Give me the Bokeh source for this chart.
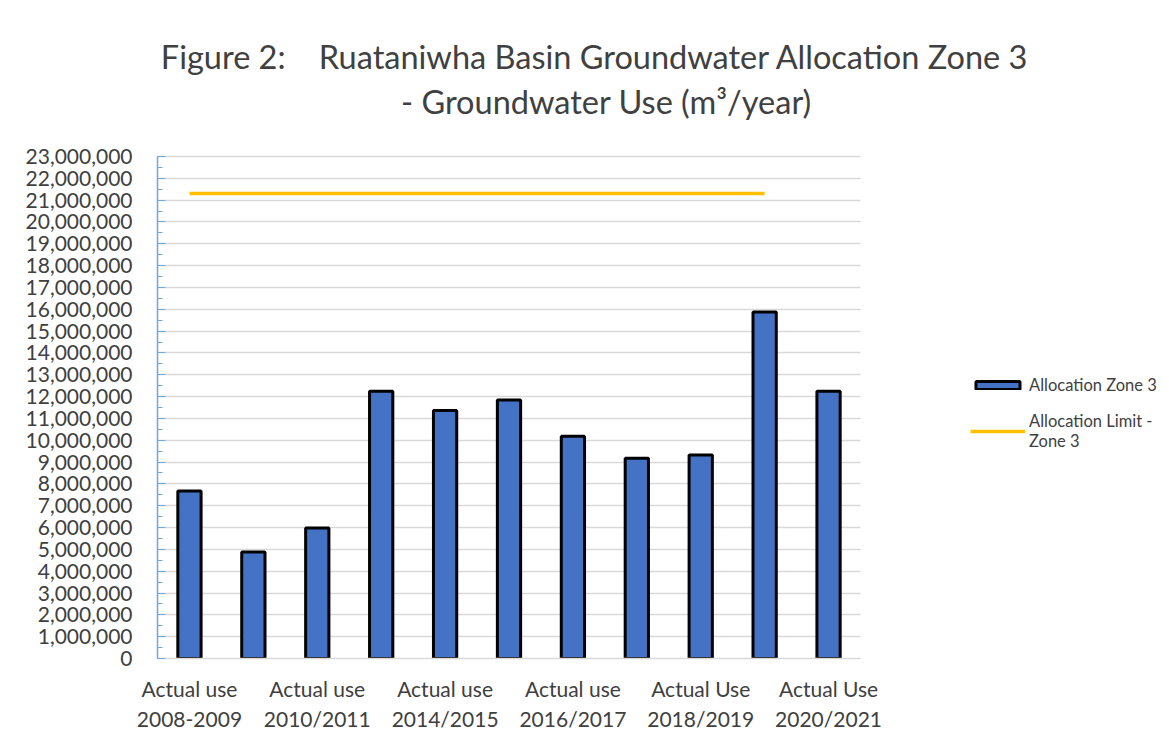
from bokeh.plotting import figure
from bokeh.models import (Range1d, SingleIntervalTicker, NumeralTickFormatter, FixedTicker,
                          Legend, LegendItem, Label)
from bokeh.embed import file_html
from bokeh.resources import INLINE

# ---- data ----
categories = [
    "Actual use 2008-2009", "Actual use 2009/2010", "Actual use 2010/2011",
    "Actual use 2012/2013", "Actual use 2014/2015", "Actual use 2015/2016",
    "Actual use 2016/2017", "Actual use 2017/2018", "Actual Use 2018/2019",
    "Actual Use 2019/2020", "Actual Use 2020/2021",
]
use_values = [7670000, 4880000, 5980000, 12240000, 11360000, 11840000,
              10180000, 9170000, 9320000, 15870000, 12250000]
limit_values = [21300000, 21300000, 21300000, 21300000, 21300000,
                21300000, 21300000, 21300000, 21300000, 21300000]
shown_tick_labels = {
    "Actual use 2008-2009": "Actual use\n2008-2009",
    "Actual use 2010/2011": "Actual use\n2010/2011",
    "Actual use 2014/2015": "Actual use\n2014/2015",
    "Actual use 2016/2017": "Actual use\n2016/2017",
    "Actual Use 2018/2019": "Actual Use\n2018/2019",
    "Actual Use 2020/2021": "Actual Use\n2020/2021",
}
y_max = 23000000
y_step = 1000000
title_line1 = "Figure 2:\u00a0\u00a0\u00a0 Ruataniwha Basin Groundwater Allocation Zone 3"
title_line2 = "- Groundwater Use (m\u00b3/year)"

# category positions on a numeric axis (1-based index of each category)
pos = {c: i + 1 for i, c in enumerate(categories)}
x_use = [pos[c] for c in categories]
x_limit = [pos[c] for c in categories[:len(limit_values)]]

FONT = "Lato"
TXT = "#404040"

# ---- layout geometry (pixels) ----
W, H = 1165, 738
LEFT, BOTTOM = 157, 80          # frame starts at the y axis, ends at the canvas edges
PLOT_W, PLOT_H = 703, 502       # width / height of the gridded chart area
frame_w, frame_h = W - LEFT, H - BOTTOM
n = len(categories)
x_range = Range1d(0.5, 0.5 + n * frame_w / PLOT_W)
y_range = Range1d(0, y_max * frame_h / PLOT_H)

p = figure(x_range=x_range, y_range=y_range, width=W, height=H,
           output_backend="svg", toolbar_location=None,
           min_border_left=LEFT, min_border_right=0, min_border_top=0,
           min_border_bottom=BOTTOM)
p.title = None
p.outline_line_color = None
p.background_fill_color = "white"
p.border_fill_color = "white"

bars = p.vbar(x=x_use, top=use_values, width=0.364, fill_color="#4472C4",
              line_color="black", line_width=3)
line = p.line(x=x_limit, y=limit_values, line_color="#FFC000", line_width=3.5)

# y axis
ya = p.yaxis[0]
ya.bounds = (0, y_max)
ya.ticker = SingleIntervalTicker(interval=y_step, num_minor_ticks=2)
ya.formatter = NumeralTickFormatter(format="0,0")
ya.axis_line_color = "#6FA8DC"
ya.axis_line_width = 1.5
ya.major_tick_line_color = "#6FA8DC"
ya.minor_tick_line_color = "#6FA8DC"
ya.major_tick_in = 8
ya.major_tick_out = 0
ya.minor_tick_in = 5
ya.minor_tick_out = 0
ya.major_label_text_font = FONT
ya.major_label_text_font_size = "21px"
ya.major_label_text_color = TXT
ya.major_label_standoff = 25

# x axis
xa = p.xaxis[0]
xa.bounds = (0.5, n + 0.5)
xa.ticker = FixedTicker(ticks=[pos[c] for c in shown_tick_labels])
xa.major_label_overrides = {pos[c]: t for c, t in shown_tick_labels.items()}
xa.axis_line_color = "#D9D9D9"
xa.axis_line_width = 1.5
xa.major_tick_line_color = None
xa.minor_tick_line_color = None
xa.major_label_text_font = FONT
xa.major_label_text_font_size = "21px"
xa.major_label_text_color = TXT
xa.major_label_standoff = 11
xa.major_label_orientation = "horizontal"

p.xgrid.grid_line_color = None
ygrid = p.ygrid[0]
if "cross_bounds" in type(ygrid).properties():
    ygrid.bounds = (0, y_max)
    ygrid.cross_bounds = (0.5, n + 0.5)
    ygrid.grid_line_color = "#D9D9D9"
    ygrid.grid_line_width = 1.5
else:
    ygrid.grid_line_color = None
    gy = list(range(y_step, y_max + 1, y_step))
    p.segment(x0=[0.5] * len(gy), x1=[n + 0.5] * len(gy), y0=gy, y1=gy,
              line_color="#D9D9D9", line_width=1.5, level="underlay")

# legend (inside the extended frame, right of the chart area)
legend = Legend(items=[LegendItem(label="Allocation Zone 3", renderers=[bars]),
                       LegendItem(label="Allocation Limit -\nZone 3", renderers=[line])],
                location=(813, 207), padding=0, margin=0, border_line_color=None,
                background_fill_alpha=0, glyph_width=55, glyph_height=10,
                label_height=20, label_text_font=FONT, label_text_font_size="16.5px",
                label_text_line_height=1.6,
                label_text_color=TXT, label_standoff=4, spacing=16)
p.add_layout(legend, "center")

# titles (screen units relative to the frame's bottom-left corner)
p.add_layout(Label(x=437.5, y=602, x_units="screen", y_units="screen", text=title_line1,
                   text_align="center", text_baseline="middle", text_font=FONT,
                   text_font_size="32.5px", text_color=TXT))
p.add_layout(Label(x=449, y=557, x_units="screen", y_units="screen", text=title_line2,
                   text_align="center", text_baseline="middle", text_font=FONT,
                   text_font_size="32.5px", text_color=TXT))

open("out.html", "w").write(file_html(p, INLINE))
